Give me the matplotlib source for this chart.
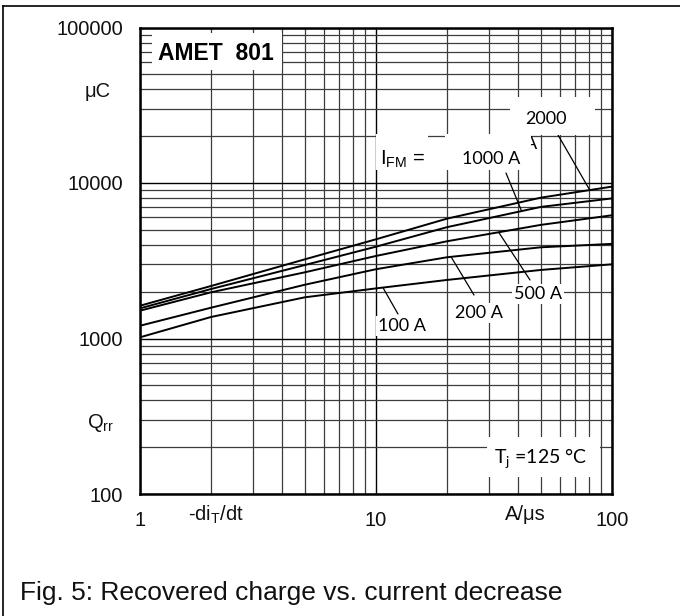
import numpy as np
import matplotlib
matplotlib.use("Agg")
import matplotlib.pyplot as plt
from matplotlib.ticker import LogLocator, NullFormatter
from matplotlib.lines import Line2D
from matplotlib.patches import Rectangle

plt.rcParams['font.family'] = ['Liberation Sans', 'DejaVu Sans']

W, H = 680, 616

# data (Qrr in uC vs -di/dt in A/us)
di_dt = [1, 2, 5, 10, 20, 50, 100]
qrr_100 = [1018, 1375, 1841, 2100, 2380, 2760, 3000]
qrr_200 = [1208, 1578, 2218, 2790, 3330, 3860, 4060]
qrr_500 = [1510, 1982, 2666, 3395, 4220, 5380, 6200]
qrr_1000 = [1563, 2081, 2970, 3895, 5200, 7020, 7960]
qrr_2000 = [1625, 2176, 3231, 4345, 5900, 8050, 9480]

curve_labels = ['100 A', '200 A', '500 A', '1000 A', '2000']
# x position on the curve where each leader line starts
leader_x = [10.7, 20.8, 33.1, 41.4, 80.5]

x_ticks = [1, 10, 100]
y_ticks = [100, 1000, 10000, 100000]

fig = plt.figure(figsize=(6.8, 6.16), dpi=100)
ax = fig.add_axes([140 / W, 1 - 494 / H, 472 / W, 466.5 / H])
ax.set_xscale('log')
ax.set_yscale('log')
ax.set_xlim(1, 100)
ax.set_ylim(100, 100000)

ax.set_xticks(x_ticks, labels=[str(v) for v in x_ticks])
ax.set_yticks(y_ticks, labels=[str(v) for v in y_ticks])
ax.xaxis.set_minor_locator(LogLocator(base=10, subs=np.arange(2, 10), numticks=20))
ax.yaxis.set_minor_locator(LogLocator(base=10, subs=np.arange(2, 10), numticks=20))
ax.xaxis.set_minor_formatter(NullFormatter())
ax.yaxis.set_minor_formatter(NullFormatter())
ax.tick_params(which='both', length=0)
ax.tick_params(axis='both', labelsize=14.5, pad=12, colors='#111111')
ax.grid(which='major', color='black', lw=1.0)
ax.grid(which='minor', color='#3c3c3c', lw=0.9)
for sp in ax.spines.values():
    sp.set_linewidth(1.8)

series = [qrr_100, qrr_200, qrr_500, qrr_1000, qrr_2000]
for q in series:
    ax.plot(di_dt, q, color='black', lw=1.4, solid_capstyle='butt')


def curve_at(xq, q):
    return 10 ** np.interp(np.log10(xq), np.log10(di_dt), np.log10(q))


def fig_text(x, y, s, **kw):
    return fig.text(x / W, 1 - y / H, s, **kw)


def white_box(x0, y0, x1, y1):
    fig.add_artist(Rectangle((x0 / W, 1 - y1 / H), (x1 - x0) / W, (y1 - y0) / H,
                             transform=fig.transFigure, facecolor='white',
                             edgecolor='none', zorder=2.5))


# leader lines from curves to labels (end points in figure pixels, y from top)
leader_end = [(398, 314), (474, 295), (530, 280), (506, 173), (554, 128)]
label_pos = [(402, 326), (479, 313), (538, 294), (491, 159), (546, 119)]
for lab, xq, q, (ex, ey), (tx, ty) in zip(curve_labels, leader_x, series, leader_end, label_pos):
    ax.annotate('', xy=(xq, curve_at(xq, q)), xycoords='data',
                xytext=(ex, H - ey), textcoords='figure pixels',
                arrowprops=dict(arrowstyle='-', color='black', lw=0.9,
                                shrinkA=0, shrinkB=0))
    if lab in ('1000 A', '2000'):
        continue
    fig_text(tx, ty, lab, family='Lato', fontsize=13, ha='center', va='center',
             zorder=3, bbox=dict(facecolor='white', edgecolor='none', pad=1.5))

# leftover "A" of the 2000 A label, partly covered by the 1000 A box
fig_text(531, 144, 'A', family='Lato', fontsize=13, ha='center', va='center', zorder=2)

white_box(152, 33, 282, 70)
white_box(376, 134, 428, 170)
white_box(445, 134, 531, 170)
white_box(510, 97, 595, 135)
white_box(487, 437, 600, 477)

fig_text(491, 159, '1000 A', family='Lato', fontsize=13, ha='center', va='center', zorder=3)
fig_text(546, 119, '2000', family='Lato', fontsize=13, ha='center', va='center', zorder=3)

fig_text(216, 54, 'AMET  801', fontsize=16.5, fontweight='bold', ha='center', va='center', zorder=3)
fig_text(380, 165, r'I$_\mathregular{FM}$ =', fontsize=14.5, ha='left', va='baseline', zorder=3)
fig_text(541, 464, r'T$_\mathregular{j}$ =125 °C', family='Lato', fontsize=14,
         ha='center', va='baseline', zorder=3)

fig_text(85, 97, 'μC', fontsize=14.5, ha='left', va='baseline', color='#111111')
fig_text(87, 428, r'Q$_\mathregular{rr}$', fontsize=14.5, ha='left', va='baseline', color='#111111')
fig_text(188, 521, r'-di$_\mathregular{T}$/dt', fontsize=14.5, ha='left', va='baseline', color='#111111')
fig_text(505, 520, 'A/μs', fontsize=14.5, ha='left', va='baseline', color='#111111')

fig_text(20, 600, 'Fig. 5: Recovered charge vs. current decrease', fontsize=19,
         ha='left', va='baseline', color='#111111')

# partial page frame
fig.add_artist(Line2D([2.5 / W, 2.5 / W], [0, 1 - 5.5 / H], transform=fig.transFigure,
                      color='black', lw=1.2))
fig.add_artist(Line2D([2.5 / W, 1], [1 - 5.5 / H, 1 - 5.5 / H], transform=fig.transFigure,
                      color='black', lw=1.2))

fig.savefig('out.png', dpi=100)
